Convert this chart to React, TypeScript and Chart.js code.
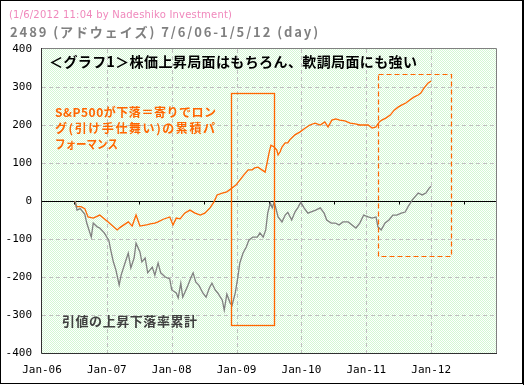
import React, { useEffect, useRef } from 'react';
import { Chart, registerables } from 'chart.js';

Chart.register(...registerables);

// ---- data (decimal years / cumulative %) ----
const grayDates = [
  2006.51, 2006.54, 2006.59, 2006.66, 2006.69, 2006.76, 2006.79, 2006.85, 2006.89, 2006.96,
  2007.00, 2007.03, 2007.06, 2007.10, 2007.14, 2007.19, 2007.22, 2007.28, 2007.33, 2007.37,
  2007.42, 2007.45, 2007.51, 2007.54, 2007.59, 2007.63, 2007.70, 2007.74, 2007.79, 2007.83,
  2007.90, 2007.97, 2008.00, 2008.07, 2008.10, 2008.14, 2008.17, 2008.24, 2008.30, 2008.33,
  2008.37, 2008.42, 2008.48, 2008.53, 2008.58, 2008.62, 2008.67, 2008.71, 2008.78, 2008.81,
  2008.85, 2008.90, 2008.93, 2008.98, 2009.02, 2009.05, 2009.10, 2009.15, 2009.19, 2009.25,
  2009.32, 2009.36, 2009.41, 2009.45, 2009.48, 2009.52, 2009.55, 2009.58, 2009.64, 2009.70,
  2009.75, 2009.79, 2009.85, 2009.90, 2009.95, 2009.99, 2010.04, 2010.10, 2010.16, 2010.22,
  2010.29, 2010.35, 2010.39, 2010.46, 2010.52, 2010.58, 2010.64, 2010.72, 2010.78, 2010.84,
  2010.90, 2010.96, 2011.03, 2011.09, 2011.15, 2011.18, 2011.23, 2011.29, 2011.35, 2011.41,
  2011.47, 2011.54, 2011.60, 2011.64, 2011.71, 2011.75, 2011.80, 2011.86, 2011.92, 2011.97,
  2012.00,
];
const grayValues = [
  0, -24, -20, -35, -58, -95, -58, -68, -71, -84,
  -95, -103, -129, -160, -182, -221, -195, -163, -137, -176,
  -150, -111, -134, -160, -150, -189, -174, -195, -163, -189,
  -200, -205, -234, -242, -255, -216, -253, -226, -200, -189,
  -213, -222, -242, -253, -229, -216, -234, -242, -261, -287,
  -245, -268, -275, -242, -200, -163, -137, -121, -103, -95,
  -95, -84, -95, -76, -32, -5, -18, -2, -42, -55,
  -37, -30, -50, -29, -16, -3, -18, -32, -28, -24,
  -18, -32, -50, -58, -58, -63, -55, -55, -63, -71,
  -58, -37, -42, -45, -42, -68, -76, -58, -50, -37,
  -37, -32, -29, -16, 3, 11, 21, 16, 21, 34,
  39,
];

const orangeDates = [
  2006.51, 2006.53, 2006.60, 2006.66, 2006.71, 2006.79, 2006.89, 2007.02, 2007.16, 2007.20,
  2007.33, 2007.39, 2007.45, 2007.51, 2007.63, 2007.67, 2007.74, 2007.79, 2007.87, 2007.97,
  2008.02, 2008.07, 2008.13, 2008.20, 2008.28, 2008.36, 2008.44, 2008.51, 2008.59, 2008.65,
  2008.70, 2008.78, 2008.85, 2008.93, 2008.99, 2009.05, 2009.11, 2009.18, 2009.24, 2009.28,
  2009.33, 2009.39, 2009.44, 2009.47, 2009.50, 2009.53, 2009.58, 2009.62, 2009.64, 2009.67,
  2009.70, 2009.75, 2009.79, 2009.82, 2009.90, 2009.98, 2010.06, 2010.13, 2010.21, 2010.29,
  2010.36, 2010.41, 2010.47, 2010.53, 2010.59, 2010.67, 2010.75, 2010.83, 2010.90, 2010.98,
  2011.03, 2011.09, 2011.15, 2011.20, 2011.24, 2011.30, 2011.37, 2011.43, 2011.49, 2011.55,
  2011.61, 2011.67, 2011.74, 2011.80, 2011.84, 2011.89, 2011.95, 2012.00,
];
const orangeValues = [
  0, -15, -15, -20, -42, -45, -37, -55, -76, -70,
  -55, -66, -37, -66, -62, -60, -58, -55, -48, -42,
  -63, -45, -47, -32, -24, -32, -37, -32, -18, -3,
  16, 21, 24, 34, 42, 55, 68, 82, 82, 87,
  89, 82, 76, 100, 126, 147, 142, 134, 121, 129,
  142, 153, 153, 161, 174, 182, 192, 200, 205, 200,
  208, 195, 213, 216, 213, 211, 205, 203, 200, 200,
  200, 192, 195, 208, 213, 218, 226, 239, 247, 253,
  258, 266, 274, 279, 284, 297, 310, 316,
];

const yearTicks = [2006, 2007, 2008, 2009, 2010, 2011, 2012, 2013];
const yearLabels = ['Jan-06', 'Jan-07', 'Jan-08', 'Jan-09', 'Jan-10', 'Jan-11', 'Jan-12', ''];
const yGridValues = [-300, -200, -100, 100, 200, 300];
// highlight boxes: [xFrom, xTo, yTop, yBottom]
const solidBox = [2008.92, 2009.58, 284, -326];
const dashedBox = [2011.185, 2012.306, 333, -144];

const headerNote = '(1/6/2012 11:04 by Nadeshiko Investment)';
const headerTitle = '2489 (アドウェイズ) 7/6/06-1/5/12 (day)';
const chartTitle = '＜グラフ1＞株価上昇局面はもちろん、軟調局面にも強い';
const orangeNote = ['S&P500が下落＝寄りでロン', 'グ(引け手仕舞い)の累積パ', 'フォーマンス'];
const grayNote = '引値の上昇下落率累計';

const ORANGE = '#ff6600';
const GRAY = '#808080';

function fitText(ctx: CanvasRenderingContext2D, text: string, x: number, yMid: number, width: number, font: string, color: string) {
  ctx.save();
  ctx.font = font;
  ctx.fillStyle = color;
  ctx.textBaseline = 'middle';
  ctx.textAlign = 'left';
  (ctx as any).letterSpacing = '0px';
  const w = ctx.measureText(text).width;
  const n = Math.max(1, text.length - 1);
  if (w < width) {
    (ctx as any).letterSpacing = ((width - w) / n).toFixed(2) + 'px';
    ctx.fillText(text, x, yMid);
  } else {
    ctx.translate(x, yMid);
    ctx.scale(width / w, 1);
    ctx.fillText(text, 0, 0);
  }
  ctx.restore();
}

let patternCache: CanvasPattern | null = null;
function getPattern(ctx: CanvasRenderingContext2D) {
  if (patternCache) return patternCache;
  const c = document.createElement('canvas');
  c.width = 2; c.height = 2;
  const p = c.getContext('2d')!;
  p.fillStyle = '#ffffff';
  p.fillRect(0, 0, 2, 2);
  p.fillStyle = '#d4f8d4';
  p.fillRect(0, 0, 1, 1);
  p.fillRect(1, 1, 1, 1);
  patternCache = ctx.createPattern(c, 'repeat');
  return patternCache;
}

const decor = {
  id: 'decor',
  beforeDraw(chart: any) {
    const { ctx, chartArea: a, scales } = chart;
    const x = scales.x, y = scales.y;
    ctx.save();
    ctx.fillStyle = '#ffffff';
    ctx.fillRect(0, 0, chart.width, chart.height);
    ctx.fillStyle = getPattern(ctx) as any;
    ctx.fillRect(a.left, a.top, a.right - a.left, a.bottom - a.top);
    ctx.strokeStyle = '#c0c0c0';
    ctx.lineWidth = 1;
    ctx.setLineDash([4, 3]);
    ctx.beginPath();
    for (const yr of yearTicks) {
      const px = Math.round(x.getPixelForValue(yr)) + 0.5;
      if (px <= a.left + 1 || px >= a.right - 1) continue;
      ctx.moveTo(px, a.top);
      ctx.lineTo(px, a.bottom);
    }
    for (const v of yGridValues) {
      const py = Math.round(y.getPixelForValue(v)) + 0.5;
      ctx.moveTo(a.left, py);
      ctx.lineTo(a.right, py);
    }
    ctx.stroke();
    ctx.setLineDash([]);
    // zero line
    const zy = Math.round(y.getPixelForValue(0)) + 0.5;
    ctx.strokeStyle = '#000000';
    ctx.beginPath();
    ctx.moveTo(a.left, zy);
    ctx.lineTo(a.right, zy);
    for (let i = 0; i < yearTicks.length - 1; i++) {
      const px = Math.round(x.getPixelForValue(yearTicks[i] + 0.5)) + 0.5;
      ctx.moveTo(px, zy);
      ctx.lineTo(px, zy + 3);
    }
    ctx.stroke();
    ctx.restore();
  },
  afterDatasetsDraw(chart: any) {
    const { ctx, chartArea: a, scales } = chart;
    const x = scales.x, y = scales.y;
    ctx.save();
    // boxes
    const box = (b: number[], dash: number[], lw: number) => {
      const x1 = Math.round(x.getPixelForValue(b[0])) + 0.5;
      const x2 = Math.round(x.getPixelForValue(b[1])) + 0.5;
      const y1 = Math.round(y.getPixelForValue(b[2])) + 0.5;
      const y2 = Math.round(y.getPixelForValue(b[3])) + 0.5;
      ctx.strokeStyle = ORANGE;
      ctx.lineWidth = lw;
      ctx.setLineDash(dash);
      ctx.strokeRect(x1, y1, x2 - x1, y2 - y1);
    };
    box(solidBox, [], 1.3);
    box(dashedBox, [5, 3], 1.2);
    ctx.setLineDash([]);
    // plot borders
    ctx.lineWidth = 1;
    ctx.strokeStyle = GRAY;
    ctx.beginPath();
    ctx.moveTo(a.left, a.top - 0.5);
    ctx.lineTo(a.right + 0.5, a.top - 0.5);
    ctx.lineTo(a.right + 0.5, a.bottom);
    ctx.stroke();
    ctx.strokeStyle = '#303030';
    ctx.beginPath();
    ctx.moveTo(a.left - 0.5, a.top - 1);
    ctx.lineTo(a.left - 0.5, a.bottom + 0.5);
    ctx.lineTo(a.right + 1, a.bottom + 0.5);
    ctx.stroke();
    // outer frame
    ctx.strokeStyle = '#000000';
    ctx.strokeRect(0.5, 0.5, chart.width - 2, chart.height - 2);
    ctx.beginPath();
    ctx.moveTo(chart.width - 0.5, 0);
    ctx.lineTo(chart.width - 0.5, chart.height);
    ctx.stroke();
    // texts
    fitText(ctx, headerNote, 9, 15, 223, '10px "DejaVu Sans"', '#f088bc');
    fitText(ctx, headerTitle, 10, 32, 308, 'bold 13px "Noto Sans CJK JP"', GRAY);
    fitText(ctx, chartTitle, 49, 62, 368, 'bold 14px "Noto Sans CJK JP"', '#000000');
    const widths = [161, 160, 63];
    orangeNote.forEach((t, i) => fitText(ctx, t, 55, 112 + i * 16, widths[i], 'bold 12px "Noto Sans CJK JP"', ORANGE));
    fitText(ctx, grayNote, 62, 321, 135, 'bold 13px "Noto Sans CJK JP"', '#404040');
    ctx.restore();
  },
};

export default function App() {
  const ref = useRef<HTMLCanvasElement>(null);
  useEffect(() => {
    document.body.style.margin = '0';
    const canvas = ref.current!;
    const chart = new Chart(canvas, {
      type: 'line',
      data: {
        datasets: [
          {
            label: '引値の上昇下落率累計',
            data: grayDates.map((d, i) => ({ x: d, y: grayValues[i] })),
            borderColor: GRAY,
            borderWidth: 1.3,
            pointRadius: 0,
            fill: false,
            tension: 0,
          },
          {
            label: 'S&P500下落日ロング',
            data: orangeDates.map((d, i) => ({ x: d, y: orangeValues[i] })),
            borderColor: ORANGE,
            borderWidth: 1.3,
            pointRadius: 0,
            fill: false,
            tension: 0,
          },
        ],
      },
      options: {
        animation: false,
        responsive: false,
        devicePixelRatio: 1,
        layout: { padding: { left: 0, top: 49, right: 28, bottom: 0 } },
        plugins: { legend: { display: false }, tooltip: { enabled: false }, title: { display: false } },
        scales: {
          x: {
            type: 'linear',
            min: 2006,
            max: 2013,
            afterFit: (s: any) => { s.height = 32; },
            afterBuildTicks: (s: any) => { s.ticks = yearTicks.map((v) => ({ value: v })); },
            ticks: {
              autoSkip: false,
              maxRotation: 0,
              padding: 11,
              color: '#000',
              font: { family: '"DejaVu Sans Mono"', size: 11 },
              callback: (v: any) => yearLabels[yearTicks.indexOf(Math.round(v))] ?? '',
            },
            grid: { display: false, drawTicks: false },
            border: { display: false },
          },
          y: {
            min: -400,
            max: 400,
            afterFit: (s: any) => { s.width = 42; },
            ticks: {
              stepSize: 100,
              padding: 10,
              color: '#000',
              font: { family: '"DejaVu Sans Mono"', size: 11 },
            },
            grid: { display: false, drawTicks: false },
            border: { display: false },
          },
        },
      },
      plugins: [decor],
    } as any);
    return () => chart.destroy();
  }, []);
  return (
    <div style={{ position: 'absolute', left: 0, top: 0, width: 524, height: 385 }}>
      <canvas ref={ref} width={524} height={385} style={{ width: 524, height: 385, display: 'block' }} />
    </div>
  );
}
